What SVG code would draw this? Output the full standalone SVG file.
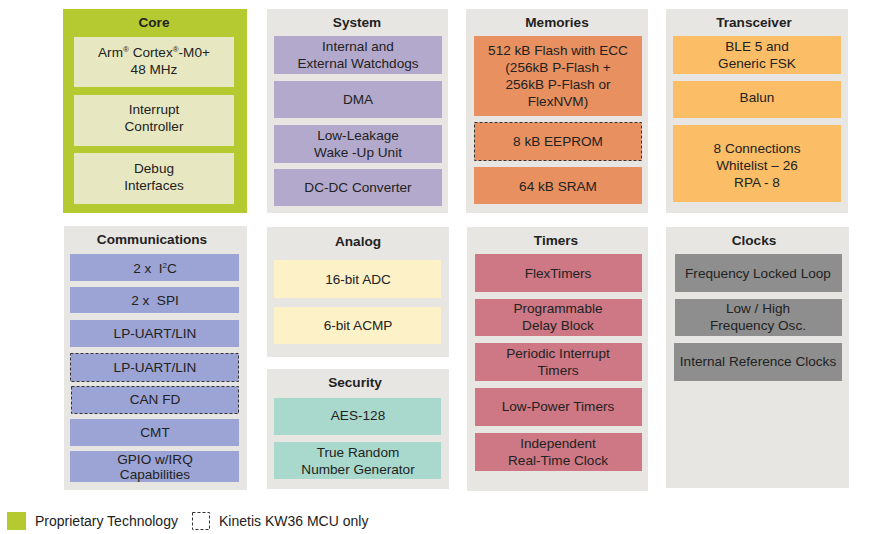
<svg xmlns="http://www.w3.org/2000/svg" width="879" height="534" viewBox="0 0 879 534">
<style>
text{font-family:"Liberation Sans",Arial,sans-serif;font-size:13.6px;fill:#222;text-anchor:middle}
.t{font-weight:bold}
.lg{font-size:14px;text-anchor:start}
.panel{fill:#e8e6e3}
.dash{stroke:#333;stroke-width:1;stroke-dasharray:3,2}
.core{fill:#b5ca31}
.coreb{fill:#e7e8c2}
.sys{fill:#b3a9cc}
.mem{fill:#e8905f}
.trx{fill:#fbbd66}
.com{fill:#9ba4d4}
.ana{fill:#fdf1c8}
.sec{fill:#a9d9cd}
.tim{fill:#cd7884}
.clk{fill:#8e8e8e}
</style>
<rect width="879" height="534" fill="#ffffff"/>

<g id="core">
<rect class="core" x="63" y="9" width="184" height="204"/>
<text class="t" x="154" y="27">Core</text>
<rect class="coreb" x="74" y="37" width="160" height="50"/>
<text x="154" y="57">Arm<tspan font-size="8" dy="-5">®</tspan><tspan dy="5"> Cortex</tspan><tspan font-size="8" dy="-5">®</tspan><tspan dy="5">-M0+</tspan></text>
<text x="154" y="74">48 MHz</text>
<rect class="coreb" x="74" y="95" width="160" height="51"/>
<text x="154" y="114">Interrupt</text>
<text x="154" y="131">Controller</text>
<rect class="coreb" x="74" y="153" width="160" height="51"/>
<text x="154" y="173">Debug</text>
<text x="154" y="190">Interfaces</text>
</g>

<g id="system">
<rect class="panel" x="267" y="9" width="181" height="204"/>
<text class="t" x="357" y="27">System</text>
<rect class="sys" x="274" y="36" width="168" height="38"/>
<text x="358" y="51">Internal and</text>
<text x="358" y="68">External Watchdogs</text>
<rect class="sys" x="274" y="81" width="168" height="37"/>
<text x="358" y="104">DMA</text>
<rect class="sys" x="274" y="125" width="168" height="38"/>
<text x="358" y="140">Low-Leakage</text>
<text x="358" y="157">Wake -Up Unit</text>
<rect class="sys" x="274" y="169" width="168" height="37"/>
<text x="358" y="192">DC-DC Converter</text>
</g>

<g id="memories">
<rect class="panel" x="466" y="9" width="182" height="204"/>
<text class="t" x="557" y="27">Memories</text>
<rect class="mem" x="474" y="36" width="168" height="80"/>
<text x="558" y="55">512 kB Flash with ECC</text>
<text x="558" y="72">(256kB P-Flash +</text>
<text x="558" y="89">256kB P-Flash or</text>
<text x="558" y="106">FlexNVM)</text>
<rect class="mem dash" x="474.5" y="122.5" width="167" height="38"/>
<text x="558" y="146">8 kB EEPROM</text>
<rect class="mem" x="474" y="167" width="168" height="37"/>
<text x="558" y="191">64 kB SRAM</text>
</g>

<g id="transceiver">
<rect class="panel" x="666" y="9" width="182" height="204"/>
<text class="t" x="754" y="27">Transceiver</text>
<rect class="trx" x="673" y="36" width="168" height="38"/>
<text x="757" y="51">BLE 5 and</text>
<text x="757" y="68">Generic FSK</text>
<rect class="trx" x="673" y="81" width="168" height="37"/>
<text x="757" y="102">Balun</text>
<rect class="trx" x="673" y="125" width="168" height="77"/>
<text x="757" y="153">8 Connections</text>
<text x="757" y="170">Whitelist – 26</text>
<text x="757" y="187">RPA - 8</text>
</g>

<g id="communications">
<rect class="panel" x="64" y="226" width="183" height="264"/>
<text class="t" x="152" y="244">Communications</text>
<rect class="com" x="70" y="254" width="169" height="27"/>
<text x="155" y="273">2 x&#160; I<tspan font-size="8" dy="-5">2</tspan><tspan dy="5">C</tspan></text>
<rect class="com" x="70" y="287" width="169" height="26"/>
<text x="155" y="305">2 x&#160; SPI</text>
<rect class="com" x="70" y="320" width="169" height="27"/>
<text x="155" y="338">LP-UART/LIN</text>
<rect class="com dash" x="70.5" y="353.5" width="168" height="28"/>
<text x="155" y="372">LP-UART/LIN</text>
<rect class="com dash" x="71.5" y="386.5" width="167" height="27"/>
<text x="155" y="404">CAN FD</text>
<rect class="com" x="70" y="419" width="169" height="27"/>
<text x="155" y="437">CMT</text>
<rect class="com" x="70" y="451" width="169" height="31"/>
<text x="155" y="464">GPIO w/IRQ</text>
<text x="155" y="479">Capabilities</text>
</g>

<g id="analog">
<rect class="panel" x="267" y="227" width="182" height="130"/>
<text class="t" x="358" y="246">Analog</text>
<rect class="ana" x="274" y="260" width="167" height="38"/>
<text x="358" y="284">16-bit ADC</text>
<rect class="ana" x="274" y="307" width="167" height="37"/>
<text x="358" y="330">6-bit ACMP</text>
</g>

<g id="security">
<rect class="panel" x="267" y="369" width="182" height="120"/>
<text class="t" x="355" y="387">Security</text>
<rect class="sec" x="274" y="398" width="167" height="37"/>
<text x="358" y="420">AES-128</text>
<rect class="sec" x="274" y="442" width="167" height="37"/>
<text x="358" y="457">True Random</text>
<text x="358" y="474">Number Generator</text>
</g>

<g id="timers">
<rect class="panel" x="467" y="227" width="181" height="264"/>
<text class="t" x="556" y="245">Timers</text>
<rect class="tim" x="475" y="254" width="167" height="38"/>
<text x="558" y="278">FlexTimers</text>
<rect class="tim" x="475" y="299" width="167" height="37"/>
<text x="558" y="313">Programmable</text>
<text x="558" y="330">Delay Block</text>
<rect class="tim" x="475" y="343" width="167" height="38"/>
<text x="558" y="358">Periodic Interrupt</text>
<text x="558" y="375">Timers</text>
<rect class="tim" x="475" y="388" width="167" height="38"/>
<text x="558" y="411">Low-Power Timers</text>
<rect class="tim" x="475" y="433" width="167" height="38"/>
<text x="558" y="448">Independent</text>
<text x="558" y="465">Real-Time Clock</text>
</g>

<g id="clocks">
<rect class="panel" x="666" y="227" width="183" height="261"/>
<text class="t" x="754" y="245">Clocks</text>
<rect class="clk" x="675" y="254" width="167" height="38"/>
<text x="758" y="278">Frequency Locked Loop</text>
<rect class="clk" x="675" y="299" width="167" height="37"/>
<text x="758" y="313">Low / High</text>
<text x="758" y="330">Frequency Osc.</text>
<rect class="clk" x="674" y="343" width="168" height="38"/>
<text x="758" y="366">Internal Reference Clocks</text>
</g>

<g id="connectors"></g>

<g id="legend">
<rect class="core" x="7" y="512" width="19" height="18"/>
<text class="lg" x="35" y="526">Proprietary Technology</text>
<rect x="192.5" y="512.5" width="17" height="17" fill="none" class="dash"/>
<text class="lg" x="219" y="526">Kinetis KW36 MCU only</text>
</g>
</svg>
